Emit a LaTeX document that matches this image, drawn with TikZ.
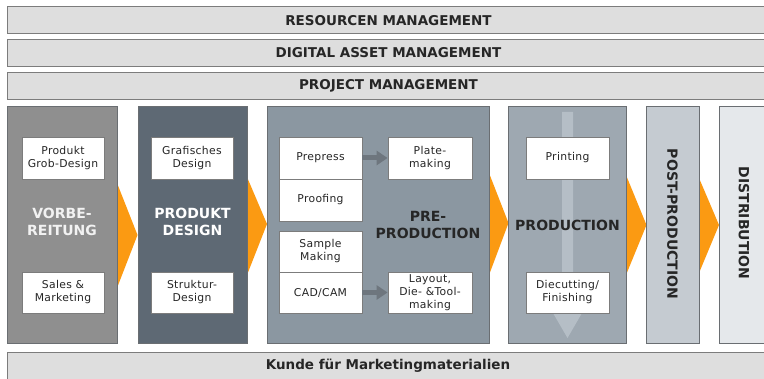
\documentclass[tikz,border=0pt]{standalone}
\usepackage{fontspec}
\setmainfont{DejaVu Sans}
\newfontfamily\boxfont[LetterSpace=3]{DejaVu Sans}
\usetikzlibrary{arrows.meta}
\definecolor{barfill}{HTML}{DEDEDE}
\definecolor{barline}{HTML}{7C7C7C}
\definecolor{colA}{HTML}{8F8F8F}
\definecolor{colB}{HTML}{5E6974}
\definecolor{colC}{HTML}{8B97A1}
\definecolor{colD}{HTML}{9EA8B1}
\definecolor{colE}{HTML}{C5CBD1}
\definecolor{colF}{HTML}{E5E8EB}
\definecolor{colline}{HTML}{6A6E72}
\definecolor{orng}{HTML}{FB9A12}
\definecolor{garrow}{HTML}{6E767E}
\definecolor{varrow}{HTML}{B5BEC6}
\definecolor{txt}{HTML}{262626}
\tikzset{
  bar/.style={draw=barline, fill=barfill, line width=1pt, minimum height=27pt, minimum width=763pt, inner sep=0pt,
    font=\fontsize{13.5}{15}\selectfont\bfseries, text=txt},
  column/.style={draw=colline, line width=0.8pt, minimum height=237pt, inner sep=0pt},
  wbox/.style={draw=barline, fill=white, line width=0.8pt, inner sep=0pt, align=center,
    font=\boxfont\fontsize{10.8}{13}\selectfont, text=txt},
  biglbl/.style={align=center, font=\fontsize{14}{17}\selectfont\bfseries, inner sep=0pt},
  chev/.style={fill=orng},
  garr/.style={draw=garrow, line width=5pt, -{Triangle[length=11pt,width=14pt]}, shorten >=0pt}
}
\begin{document}
\begin{tikzpicture}[x=1pt,y=-1pt]
\useasboundingbox (0,0) rectangle (764,379);
\clip (0,0) rectangle (764,379);
\fill[white] (0,0) rectangle (764,379);

% top bars
\node[bar] (res) at (388.5,20.5) {RESOURCEN MANAGEMENT};
\node[bar] (dam) at (388.5,53) {DIGITAL ASSET MANAGEMENT};
\node[bar] (pm)  at (388.5,86) {PROJECT MANAGEMENT};

% bottom bar
\node[bar, minimum height=34pt] (kunde) at (388.5,370) {};
\node[font=\fontsize{13.5}{15}\selectfont\bfseries, text=txt, inner sep=0pt] (kundetxt) at (388,366) {Kunde für Marketingmaterialien};

% chevrons
\fill[chev] (117,183) -- (137.5,235) -- (117,288) -- cycle;
\fill[chev] (247,177) -- (267,224) -- (247,275) -- cycle;
\fill[chev] (489,173) -- (508.5,223) -- (489,275) -- cycle;
\fill[chev] (626,175) -- (646.5,225) -- (626,275) -- cycle;
\fill[chev] (699,178) -- (719,225) -- (699,273) -- cycle;

% columns
\node[column, fill=colA, minimum width=110pt] (c1) at (62,224.5) {};
\node[column, fill=colB, minimum width=109pt] (c2) at (192.5,224.5) {};
\node[column, fill=colC, minimum width=222pt] (c3) at (378,224.5) {};
\node[column, fill=colD, minimum width=118pt] (c4) at (567,224.5) {};
\node[column, fill=colE, minimum width=53pt] (c5) at (672.5,224.5) {};
\node[column, fill=colF, minimum width=60pt] (c6) at (749,224.5) {};

% production flow arrow
\fill[varrow] (562,112) -- (573,112) -- (573,313) -- (582,313) -- (567.5,338) -- (553,313) -- (562,313) -- cycle;

% column 1
\node[wbox, minimum width=82pt, minimum height=42pt] (grob) at (63,158) {Produkt\\Grob-Design};
\node[wbox, minimum width=82pt, minimum height=41pt] (sales) at (63,292.5) {Sales \&\\Marketing};
\node[biglbl, text=white!95!black] (vor) at (62,222) {VORBE-\\REITUNG};

% column 2
\node[wbox, minimum width=82pt, minimum height=42pt] (graf) at (192,158) {Grafisches\\Design};
\node[wbox, minimum width=82pt, minimum height=41pt] (struk) at (192,292.5) {Struktur-\\Design};
\node[biglbl, text=white] (pd) at (192.5,222) {PRODUKT\\DESIGN};

% column 3
\node[wbox, minimum width=83pt, minimum height=42pt] (prepress) at (320.5,158) {Prepress};
\node[wbox, minimum width=83pt, minimum height=42pt] (proof) at (320.5,200) {Proofing};
\node[wbox, minimum width=83pt, minimum height=41pt] (sample) at (320.5,251.5) {Sample\\Making};
\node[wbox, minimum width=83pt, minimum height=41pt] (cad) at (320.5,292.5) {CAD/CAM};
\node[wbox, minimum width=84pt, minimum height=42pt] (plate) at (430,158) {Plate-\\making};
\node[wbox, minimum width=84pt, minimum height=41pt] (layout) at (430,292.5) {Layout,\\Die- \&Tool-\\making};
\node[biglbl, text=txt] (pre) at (428,225) {PRE-\\PRODUCTION};
\draw[garr] (prepress.east) -- (plate.west);
\draw[garr] (cad.east) -- (layout.west);

% column 4
\node[wbox, minimum width=83pt, minimum height=42pt] (print) at (567.5,158) {Printing};
\node[wbox, minimum width=83pt, minimum height=41pt] (die) at (567.5,292.5) {Diecutting/\\Finishing};
\node[biglbl, text=txt] (prod) at (567.5,225) {PRODUCTION};

% column 5, 6
\node[biglbl, text=txt, rotate=-90] (post) at (672.5,224) {POST-PRODUCTION};
\node[biglbl, text=txt, rotate=-90] (dist) at (744,223) {DISTRIBUTION};
\end{tikzpicture}
\end{document}
